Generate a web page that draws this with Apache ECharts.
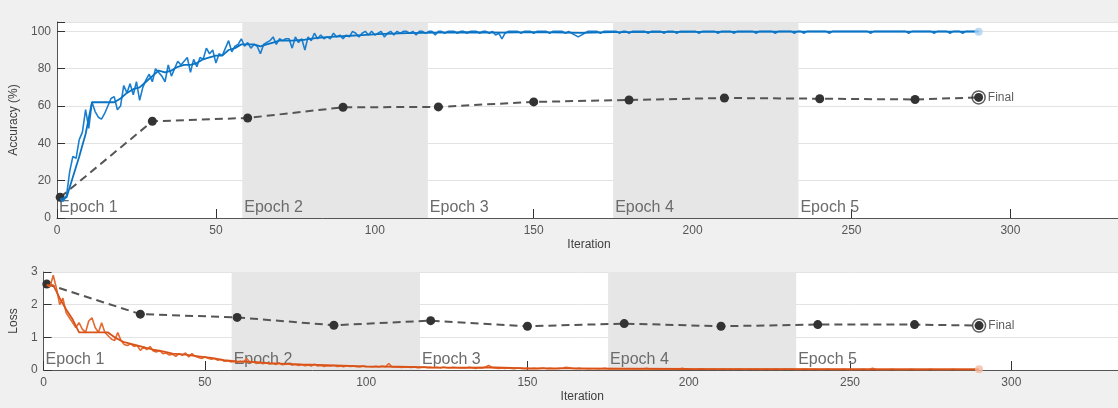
<!DOCTYPE html>
<html>
  <head>
    <meta charset="utf-8" />
    <title>Training progress</title>
    <script src="https://cdn.jsdelivr.net/npm/echarts@6/dist/echarts.min.js"></script>
    <style>
      html, body { margin: 0; padding: 0; background: #f0f0f0; overflow: hidden; }
    </style>
  </head>
  <body>
    <!-- a bit wider than the window so the right edge of the axes is cut like in the original -->
    <div id="chart" style="width: 1124px;height:408px;"></div>
    <script type="text/javascript">

      // training accuracy, one value per iteration (1..290)
      var accRaw = [
        10, 9, 12, 25, 33, 32, 42, 46, 58, 48,
        62, 57, 54, 53, 56, 60, 64, 65, 58, 60,
        71, 67, 72, 66, 73, 63, 70, 74, 77, 73,
        80, 78, 76, 73, 82, 76, 80, 84, 82, 84,
        86, 78, 85, 81, 86, 85, 91, 88, 90, 83,
        88, 87, 91, 95, 89, 92, 93, 96, 92, 94,
        91, 93, 92, 88, 93, 94, 95, 97, 93, 96,
        95, 96, 96, 91, 97, 94, 96, 90, 97, 95,
        99, 96, 98, 96, 97, 96, 99, 97, 98, 96,
        98, 97, 100, 99, 97, 99, 100, 98, 100, 98,
        99, 100, 97, 99, 100, 98, 100, 99, 100, 100,
        99, 100, 98, 100, 100, 99, 100, 100, 98, 100,
        100, 99, 100, 100, 100, 99, 100, 100, 99, 100,
        100, 100, 99, 100, 100, 99, 100, 98, 99, 96,
        99, 100, 100, 100, 100, 99, 100, 100, 100, 99,
        100, 100, 100, 100, 99, 100, 100, 100, 100, 99,
        100, 99, 98, 97, 98, 99, 100, 100, 100, 100,
        99, 100, 100, 100, 100, 100, 99, 100, 100, 99,
        100, 100, 100, 100, 100, 99, 100, 100, 100, 100,
        99, 100, 100, 100, 99, 100, 100, 100, 100, 100,
        100, 99, 100, 100, 100, 100, 100, 99, 100, 100,
        100, 100, 99, 100, 100, 100, 100, 100, 100, 99,
        100, 100, 100, 100, 100, 99, 100, 100, 100, 100,
        100, 99, 100, 100, 99, 100, 100, 100, 100, 100,
        100, 100, 99, 100, 100, 100, 100, 100, 100, 100,
        100, 100, 100, 100, 100, 99, 100, 100, 100, 100,
        100, 100, 100, 100, 100, 100, 100, 99, 100, 100,
        100, 100, 100, 100, 100, 99, 100, 100, 100, 100,
        99, 100, 100, 100, 99, 100, 100, 100, 100, 100
      ];

      // smoothed training accuracy
      var accSmoothIter = [1, 3, 5, 7, 9, 11, 18, 20, 22, 24, 26, 28, 30, 32, 34, 36, 38, 40, 42, 44, 46, 48, 50, 52, 54, 56, 58, 60, 62, 64, 66, 68, 70, 74, 78, 82, 86, 91, 96, 101, 110, 120, 130, 140, 150, 165, 175, 200, 230, 260, 290];
      var accSmooth = [10, 11, 22, 33, 45, 62, 62, 64, 67, 69, 70, 73, 76, 79, 78, 79, 81, 82, 82, 83, 85, 86, 87, 87, 90, 91, 93, 93, 93, 92, 93, 94, 95, 95, 95.5, 96.5, 97, 97.5, 98, 98.5, 99, 99.3, 99.5, 99.3, 99.6, 99.2, 99.6, 99.7, 99.8, 99.8, 99.8];

      // training loss, one value per iteration (1..290)
      var lossRaw = [
        2.6, 2.55, 2.9, 2.5, 2.0, 2.2, 1.75, 1.6, 1.45, 1.3,
        1.45, 1.25, 1.15, 1.5, 1.6, 1.3, 1.15, 1.45, 1.15, 1.05,
        0.95, 0.9, 1.15, 0.9, 0.78, 0.75, 0.8, 0.72, 0.75, 0.6,
        0.7, 0.62, 0.72, 0.58, 0.55, 0.6, 0.5, 0.52, 0.46, 0.48,
        0.42, 0.5, 0.45, 0.52, 0.4, 0.5, 0.42, 0.38, 0.35, 0.4,
        0.36, 0.33, 0.35, 0.3, 0.32, 0.27, 0.28, 0.25, 0.26, 0.24,
        0.27, 0.25, 0.35, 0.22, 0.25, 0.2, 0.23, 0.19, 0.22, 0.18,
        0.2, 0.17, 0.22, 0.16, 0.18, 0.2, 0.15, 0.17, 0.14, 0.16,
        0.13, 0.15, 0.12, 0.18, 0.12, 0.14, 0.11, 0.13, 0.12, 0.14,
        0.11, 0.12, 0.1, 0.13, 0.11, 0.12, 0.1, 0.09, 0.12, 0.1,
        0.1, 0.09, 0.11, 0.09, 0.12, 0.1, 0.2, 0.1, 0.09, 0.1,
        0.08, 0.1, 0.09, 0.08, 0.1, 0.07, 0.08, 0.09, 0.07, 0.08,
        0.07, 0.08, 0.06, 0.09, 0.07, 0.06, 0.08, 0.07, 0.06, 0.07,
        0.06, 0.08, 0.06, 0.05, 0.07, 0.06, 0.09, 0.14, 0.08, 0.06,
        0.05, 0.06, 0.05, 0.06, 0.05, 0.04, 0.06, 0.05, 0.04, 0.05,
        0.04, 0.05, 0.04, 0.05, 0.06, 0.04, 0.05, 0.04, 0.04, 0.05,
        0.06, 0.08, 0.07, 0.05, 0.04, 0.05, 0.04, 0.04, 0.03, 0.04,
        0.04, 0.03, 0.04, 0.05, 0.03, 0.04, 0.03, 0.04, 0.03, 0.03,
        0.04, 0.03, 0.04, 0.03, 0.03, 0.04, 0.05, 0.03, 0.03, 0.04,
        0.03, 0.03, 0.04, 0.03, 0.02, 0.03, 0.03, 0.05, 0.03, 0.03,
        0.03, 0.02, 0.03, 0.04, 0.03, 0.02, 0.03, 0.03, 0.02, 0.03,
        0.03, 0.02, 0.03, 0.02, 0.03, 0.03, 0.02, 0.02, 0.03, 0.02,
        0.03, 0.02, 0.02, 0.03, 0.02, 0.02, 0.03, 0.02, 0.02, 0.03,
        0.02, 0.03, 0.02, 0.02, 0.02, 0.03, 0.02, 0.02, 0.03, 0.02,
        0.02, 0.02, 0.03, 0.02, 0.02, 0.02, 0.02, 0.03, 0.02, 0.02,
        0.02, 0.02, 0.02, 0.03, 0.02, 0.02, 0.05, 0.02, 0.02, 0.02,
        0.02, 0.02, 0.03, 0.02, 0.02, 0.02, 0.02, 0.02, 0.03, 0.02,
        0.02, 0.02, 0.02, 0.02, 0.03, 0.02, 0.02, 0.02, 0.02, 0.02,
        0.02, 0.03, 0.02, 0.02, 0.02, 0.02, 0.02, 0.02, 0.02, 0.02
      ];

      // smoothed training loss
      var lossSmoothIter = [1, 3, 5, 7, 9, 11, 20, 22, 25, 28, 31, 34, 37, 40, 44, 48, 52, 56, 60, 65, 70, 75, 80, 90, 100, 110, 120, 130, 140, 150, 165, 180, 200, 230, 260, 290];
      var lossSmooth = [2.6, 2.6, 2.2, 1.85, 1.55, 1.15, 1.15, 1.0, 0.85, 0.78, 0.7, 0.62, 0.57, 0.5, 0.47, 0.42, 0.37, 0.3, 0.26, 0.25, 0.21, 0.19, 0.17, 0.14, 0.11, 0.1, 0.08, 0.07, 0.08, 0.05, 0.05, 0.04, 0.03, 0.025, 0.02, 0.02];

      // validation
      var valIter = [1, 30, 60, 90, 120, 150, 180, 210, 240, 270, 290];
      var valAcc = [11.1, 51.8, 53.6, 59.3, 59.5, 62.2, 63.2, 64.3, 63.9, 63.5, 64.6];
      var valLoss = [2.63, 1.71, 1.61, 1.37, 1.51, 1.34, 1.42, 1.34, 1.39, 1.39, 1.36];

      // epochs
      var epochNames = ['Epoch 1', 'Epoch 2', 'Epoch 3', 'Epoch 4', 'Epoch 5'];
      var epochStart = [0, 58.3, 116.7, 175, 233.3];
      var epochEnd = [58.3, 116.7, 175, 233.3, 291.7];

      function pairs(xs, ys) {
        var out = [];
        for (var i = 0; i < ys.length; i++) out.push([xs[i], ys[i]]);
        return out;
      }
      var iters = [];
      for (var i = 0; i < accRaw.length; i++) iters.push(i + 1);

      var FONT = 'Liberation Sans';

      function epochAreas(fontSize) {
        var d = [];
        for (var i = 0; i < epochNames.length; i++) {
          d.push([
            {
              xAxis: epochStart[i],
              name: epochNames[i],
              itemStyle: { color: i % 2 === 1 ? '#e6e6e6' : 'rgba(0,0,0,0)' }
            },
            { xAxis: epochEnd[i] }
          ]);
        }
        return {
          silent: true,
          label: {
            show: true,
            position: 'insideBottomLeft',
            distance: 2,
            color: '#6b6b6b',
            fontSize: fontSize,
            fontFamily: FONT
          },
          data: d
        };
      }

      function xAxisOf(gridIndex, max) {
        return {
          type: 'value',
          gridIndex: gridIndex,
          min: 0,
          max: max,
          interval: 50,
          name: 'Iteration',
          nameLocation: 'middle',
          nameGap: 21,
          nameTextStyle: { color: '#404040', fontSize: 12, fontFamily: FONT },
          axisLine: { show: true, lineStyle: { color: '#555', width: 1 } },
          axisTick: { show: true, inside: true, length: 9, lineStyle: { color: '#333' } },
          axisLabel: {
            color: '#555', fontSize: 12, fontFamily: FONT, margin: 7,
            formatter: function (v) { return v % 50 === 0 ? String(v) : ''; }
          },
          splitLine: { show: false }
        };
      }

      var chart = echarts.init(document.getElementById('chart'));
      var option = {
        backgroundColor: '#f0f0f0',
        animation: false,
        grid: [
          { left: 57, top: 22, right: 0, height: 196, show: true, backgroundColor: '#fff', borderWidth: 0 },
          { left: 42, top: 272, right: 0, height: 98, show: true, backgroundColor: '#fff', borderWidth: 0 }
        ],
        xAxis: [
          xAxisOf(0, 334.8),
          xAxisOf(1, 334.0)
        ],
        yAxis: [
          {
            type: 'value',
            gridIndex: 0,
            min: 0,
            max: 105,
            interval: 20,
            name: 'Accuracy (%)',
            nameLocation: 'middle',
            nameGap: 30,
            nameTextStyle: { color: '#404040', fontSize: 12, fontFamily: FONT },
            axisLine: { show: true, lineStyle: { color: '#555', width: 1 } },
            axisTick: { show: true, inside: true, length: 8, lineStyle: { color: '#333' } },
            axisLabel: {
              color: '#555', fontSize: 12, fontFamily: FONT, margin: 6,
              formatter: function (v) { return v % 20 === 0 ? String(v) : ''; }
            },
            splitLine: { show: true, lineStyle: { color: '#e3e3e3', width: 1 } }
          },
          {
            type: 'value',
            gridIndex: 1,
            min: 0,
            max: 3,
            interval: 1,
            name: 'Loss',
            nameLocation: 'middle',
            nameGap: 16,
            nameTextStyle: { color: '#404040', fontSize: 12, fontFamily: FONT },
            axisLine: { show: true, lineStyle: { color: '#555', width: 1 } },
            axisTick: { show: true, inside: true, length: 8, lineStyle: { color: '#333' } },
            axisLabel: { color: '#555', fontSize: 12, fontFamily: FONT, margin: 6 },
            splitLine: { show: true, lineStyle: { color: '#e3e3e3', width: 1 } }
          }
        ],
        series: [
          // accuracy panel
          {
            type: 'line', xAxisIndex: 0, yAxisIndex: 0,
            data: [], markArea: epochAreas(16), z: 1
          },
          {
            name: 'Validation accuracy',
            type: 'line', xAxisIndex: 0, yAxisIndex: 0,
            data: pairs(valIter, valAcc),
            lineStyle: { color: '#555', width: 2, type: [8, 5] },
            symbol: 'circle', symbolSize: 9,
            itemStyle: { color: '#333' },
            z: 3
          },
          {
            name: 'Training accuracy',
            type: 'line', xAxisIndex: 0, yAxisIndex: 0,
            data: pairs(iters, accRaw),
            showSymbol: false,
            lineStyle: { color: '#1c7ecf', width: 1.6 },
            z: 4
          },
          {
            name: 'Smoothed accuracy',
            type: 'line', xAxisIndex: 0, yAxisIndex: 0,
            data: pairs(accSmoothIter, accSmooth),
            showSymbol: false,
            lineStyle: { color: '#0a74c4', width: 1.8 },
            z: 5
          },
          {
            type: 'scatter', xAxisIndex: 0, yAxisIndex: 0,
            data: [[accSmoothIter[accSmoothIter.length - 1], accSmooth[accSmooth.length - 1]]],
            symbolSize: 8, itemStyle: { color: '#a9d1f0' }, z: 6
          },
          {
            type: 'scatter', xAxisIndex: 0, yAxisIndex: 0,
            data: [[valIter[valIter.length - 1], valAcc[valAcc.length - 1]]],
            symbolSize: 13,
            itemStyle: { color: 'rgba(0,0,0,0)', borderColor: '#333', borderWidth: 1.5 },
            label: { show: true, position: 'right', distance: 2, formatter: 'Final', color: '#333', fontSize: 12, fontFamily: FONT },
            z: 7
          },

          // loss panel
          {
            type: 'line', xAxisIndex: 1, yAxisIndex: 1,
            data: [], markArea: epochAreas(16), z: 1
          },
          {
            name: 'Validation loss',
            type: 'line', xAxisIndex: 1, yAxisIndex: 1,
            data: pairs(valIter, valLoss),
            lineStyle: { color: '#555', width: 2, type: [8, 5] },
            symbol: 'circle', symbolSize: 9,
            itemStyle: { color: '#333' },
            z: 3
          },
          {
            name: 'Training loss',
            type: 'line', xAxisIndex: 1, yAxisIndex: 1,
            data: pairs(iters, lossRaw),
            showSymbol: false,
            lineStyle: { color: '#e36a30', width: 1.6 },
            z: 4
          },
          {
            name: 'Smoothed loss',
            type: 'line', xAxisIndex: 1, yAxisIndex: 1,
            data: pairs(lossSmoothIter, lossSmooth),
            showSymbol: false,
            lineStyle: { color: '#d95319', width: 1.8 },
            z: 5
          },
          {
            type: 'scatter', xAxisIndex: 1, yAxisIndex: 1,
            data: [[lossSmoothIter[lossSmoothIter.length - 1], lossSmooth[lossSmooth.length - 1]]],
            symbolSize: 8, itemStyle: { color: '#f5bca3' }, z: 6
          },
          {
            type: 'scatter', xAxisIndex: 1, yAxisIndex: 1,
            data: [[valIter[valIter.length - 1], valLoss[valLoss.length - 1]]],
            symbolSize: 13,
            itemStyle: { color: 'rgba(0,0,0,0)', borderColor: '#333', borderWidth: 1.5 },
            label: { show: true, position: 'right', distance: 2, formatter: 'Final', color: '#333', fontSize: 12, fontFamily: FONT },
            z: 7
          }
        ]
      };
      chart.setOption(option);
    </script>
  </body>
</html>
